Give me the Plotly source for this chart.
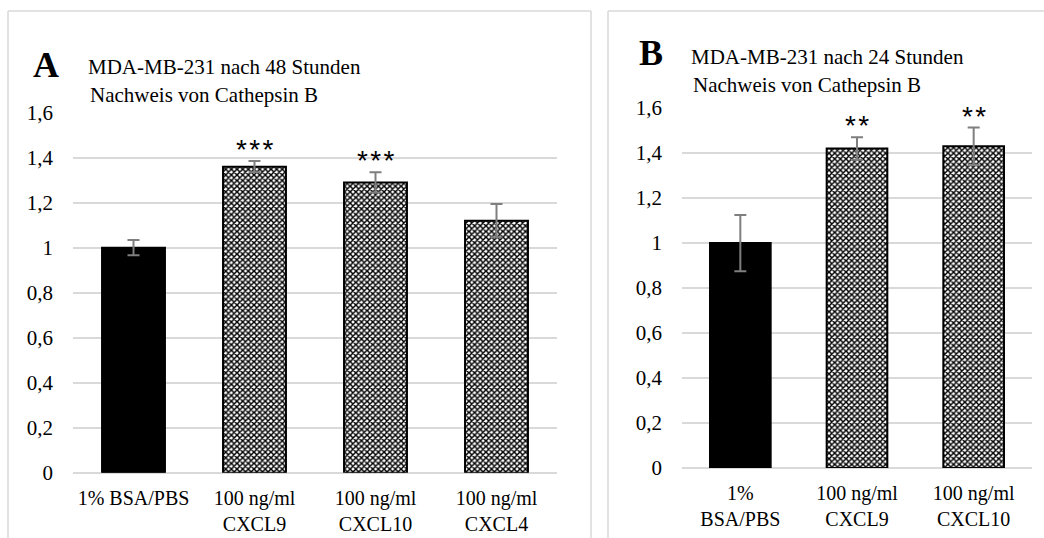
import plotly.graph_objects as go

# ---- data ----
cats_a = ["1% BSA/PBS", "100 ng/ml<br>CXCL9", "100 ng/ml<br>CXCL10", "100 ng/ml<br>CXCL4"]
vals_a = [1.0, 1.36, 1.29, 1.12]
err_a = [0.034, 0.025, 0.045, 0.074]
stars_a = ["", "***", "***", ""]

cats_b = ["1%<br>BSA/PBS", "100 ng/ml<br>CXCL9", "100 ng/ml<br>CXCL10"]
vals_b = [1.0, 1.42, 1.43]
err_b = [0.125, 0.05, 0.083]
stars_b = ["", "**", "**"]

y_ticks = [0, 0.2, 0.4, 0.6, 0.8, 1.0, 1.2, 1.4, 1.6]
y_tick_text = ["0", "0,2", "0,4", "0,6", "0,8", "1", "1,2", "1,4", "1,6"]

title_a = ["MDA-MB-231 nach 48 Stunden", "Nachweis von Cathepsin B"]
title_b = ["MDA-MB-231 nach 24 Stunden", "Nachweis von Cathepsin B"]

W, H = 1044, 538
FONT = "Liberation Serif"
GRID = "#d9d9d9"


def px_x(v):
    return v / W


def px_y(v):
    return 1 - v / H


def add_panel(fig, cats, vals, errs, xa, ya):
    # control bar: solid black
    fig.add_trace(go.Bar(
        x=cats[:1], y=vals[:1], xaxis=xa, yaxis=ya, width=0.52,
        marker=dict(color="black", line=dict(color="black", width=2)),
        error_y=dict(type="data", array=errs[:1], color="#7f7f7f", thickness=2, width=6),
        showlegend=False, hoverinfo="skip",
    ))
    # treated bars: dotted pattern
    fig.add_trace(go.Bar(
        x=cats[1:], y=vals[1:], xaxis=xa, yaxis=ya, width=0.52,
        marker=dict(color="white", line=dict(color="black", width=2),
                    pattern=dict(shape="x", fgcolor="black", bgcolor="white",
                                 size=4, solidity=0.6)),
        error_y=dict(type="data", array=errs[1:], color="#7f7f7f", thickness=2, width=6),
        showlegend=False, hoverinfo="skip",
    ))


fig = go.Figure()
add_panel(fig, cats_a, vals_a, err_a, "x", "y")
add_panel(fig, cats_b, vals_b, err_b, "x2", "y2")

axis_common_y = dict(range=[0, 1.6], tickvals=y_ticks, ticktext=y_tick_text,
                     showgrid=True, gridcolor=GRID, gridwidth=2, zeroline=True,
                     zerolinecolor=GRID, zerolinewidth=2, ticks="", showline=False,
                     tickfont=dict(family=FONT, size=21, color="black"),
                     ticklabelstandoff=19, fixedrange=True, automargin=False)
axis_common_x = dict(showgrid=False, ticks="", showline=False, zeroline=False,
                     tickfont=dict(family=FONT, size=20, color="black"),
                     ticklabelstandoff=11, fixedrange=True, tickangle=0, automargin=False,
                     type="category")

fig.update_layout(
    template="none", barmode="overlay",
    width=W, height=H, margin=dict(l=0, r=0, t=0, b=0, autoexpand=False),
    paper_bgcolor="white", plot_bgcolor="white",
    xaxis=dict(domain=[px_x(73), px_x(557)], anchor="y", categoryorder="array",
               categoryarray=cats_a, **axis_common_x),
    yaxis=dict(domain=[px_y(472.7), px_y(112.7)], anchor="x", **axis_common_y),
    xaxis2=dict(domain=[px_x(682), px_x(1032)], anchor="y2", categoryorder="array",
                categoryarray=cats_b, **axis_common_x),
    yaxis2=dict(domain=[px_y(468), px_y(108)], anchor="x2", **axis_common_y),
)

# significance stars
ann = []
for cats, vals, errs, stars, xr, yr in [(cats_a, vals_a, err_a, stars_a, "x", "y"),
                                         (cats_b, vals_b, err_b, stars_b, "x2", "y2")]:
    for c, v, e, s in zip(cats, vals, errs, stars):
        if s:
            ann.append(dict(x=c, y=v + e, xref=xr, yref=yr, text="\u200a".join(s), showarrow=False,
                            yanchor="bottom", yshift=-6,
                            font=dict(family="Liberation Sans", size=28, color="black")))

# panel labels and titles
ann.append(dict(x=px_x(31), y=px_y(65), xref="paper", yref="paper", text="<b>A</b>",
                showarrow=False, xanchor="left", yanchor="middle",
                font=dict(family=FONT, size=36, color="black")))
ann.append(dict(x=px_x(637), y=px_y(53), xref="paper", yref="paper", text="<b>B</b>",
                showarrow=False, xanchor="left", yanchor="middle",
                font=dict(family=FONT, size=36, color="black")))
for lines, x0, y0 in [(title_a, 86, 67), (title_b, 689, 57)]:
    for i, t in enumerate(lines):
        ann.append(dict(x=px_x(x0 + (2 if i else 0)), y=px_y(y0 + 28 * i), xref="paper", yref="paper",
                        text=t, showarrow=False, xanchor="left", yanchor="middle",
                        font=dict(family=FONT, size=21, color="black")))
fig.update_layout(annotations=ann)

# panel borders
border = dict(color=GRID, width=1.5)
shapes = [
    dict(type="line", xref="paper", yref="paper", x0=px_x(8), x1=px_x(8), y0=px_y(11), y1=0, line=border),
    dict(type="line", xref="paper", yref="paper", x0=px_x(8), x1=px_x(591), y0=px_y(11), y1=px_y(11), line=border),
    dict(type="line", xref="paper", yref="paper", x0=px_x(591), x1=px_x(591), y0=px_y(11), y1=0, line=border),
    dict(type="line", xref="paper", yref="paper", x0=px_x(608), x1=px_x(608), y0=px_y(11), y1=0, line=border),
    dict(type="line", xref="paper", yref="paper", x0=px_x(608), x1=1, y0=px_y(11), y1=px_y(11), line=border),
]
fig.update_layout(shapes=shapes)

fig.write_html("out.html")
